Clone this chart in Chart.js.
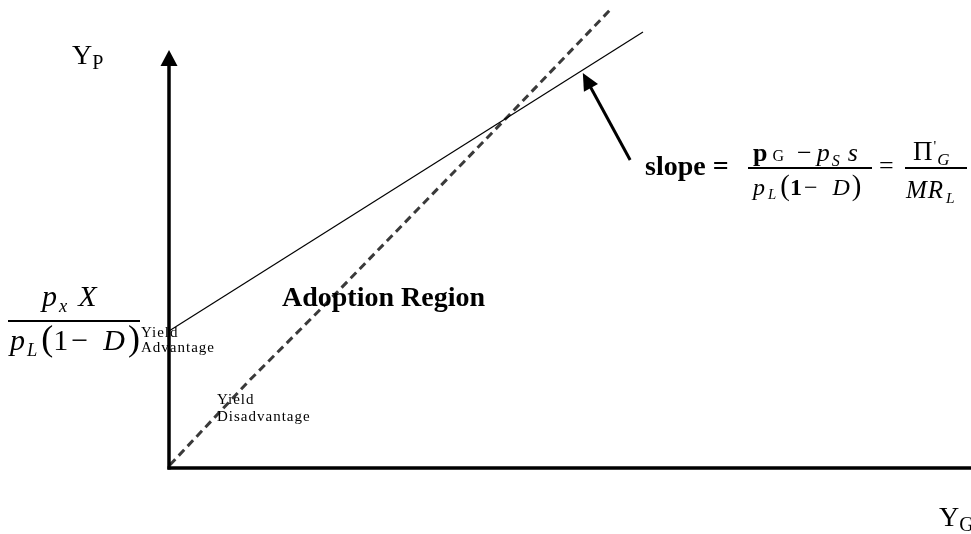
<!DOCTYPE html>
<html>
<head>
<meta charset="utf-8">
<script src="https://cdn.jsdelivr.net/npm/chart.js@4/dist/chart.umd.min.js"></script>
<style>
  body { margin: 0; background: #fff; }
  #wrap { position: relative; width: 971px; height: 534px; overflow: hidden; }
  canvas { position: absolute; left: 0; top: 0; }
  .lbl { position: absolute; font-family: "Liberation Serif", "Times New Roman", serif; line-height: 1; white-space: nowrap; color: #000; }
  .lbl span, .lbl i, .lbl b { display: inline-block; line-height: 0; }
  .it { font-style: italic; }
  .sub { font-size: 0.62em; position: relative; top: 0.3em; }
  .bar { position: absolute; background: #000; height: 2px; }
  .par { font-size: 1.2em; font-style: normal; }
  .small { font-size: 15px; letter-spacing: 1px; }
</style>
</head>
<body>
<div id="wrap">
  <canvas id="chart" width="971" height="534"></canvas>

  <div class="lbl" style="left:72px; top:41px; font-size:28px;">Y<span style="font-size:20px; position:relative; top:5px;">P</span></div>
  <div class="lbl" style="left:939px; top:503px; font-size:28px;">Y<span style="font-size:20px; position:relative; top:5px;">G</span></div>

  <!-- intercept -->
  <div class="lbl" style="left:42px; top:281px; font-size:30px;"><i>p</i><span class="sub it" style="margin-left:2px;">x</span><i style="margin-left:11px;">X</i></div>
  <div class="bar" style="left:8px; top:320px; width:132px;"></div>
  <div class="lbl" style="left:10px; top:325px; font-size:30px;"><i>p</i><span class="sub it" style="margin-left:2px;">L</span><span class="par" style="margin-left:4px;">(</span><span>1</span><span style="margin-left:3px;">&minus;</span><i style="margin-left:15px;">D</i><span class="par" style="margin-left:3px;">)</span></div>

  <div class="lbl small" style="left:141px; top:325px; line-height:15px;">Yield<br>Advantage</div>
  <div class="lbl small" style="left:217px; top:391px; line-height:17px;">Yield<br>Disadvantage</div>

  <div class="lbl" style="left:282px; top:283px; font-size:28px; font-weight:bold;">Adoption Region</div>

  <!-- slope formula -->
  <div class="lbl" style="left:645px; top:152px; font-size:28px; font-weight:bold;">slope =</div>
  <div class="lbl" style="left:753px; top:140px; font-size:26px;"><b>p</b><span style="font-size:16px; margin-left:5px;">G</span><span style="margin-left:13px;">&minus;</span><i style="margin-left:5px;">p</i><span class="sub it" style="margin-left:2px;">S</span><i style="margin-left:8px;">s</i></div>
  <div class="bar" style="left:748px; top:167px; width:124px;"></div>
  <div class="lbl" style="left:753px; top:175px; font-size:24px;"><i>p</i><span class="sub it" style="margin-left:3px;">L</span><span class="par" style="margin-left:4px;">(</span><b>1</b><span style="margin-left:2px;">&minus;</span><i style="margin-left:15px;">D</i><span class="par" style="margin-left:2px;">)</span></div>
  <div class="lbl" style="left:879px; top:153px; font-size:26px;">=</div>
  <div class="lbl" style="left:913px; top:138px; font-size:27px;">&Pi;<span style="font-size:15px; position:relative; top:-9px; margin-left:1px;">'</span><span class="sub it" style="font-size:17px; margin-left:1px;">G</span></div>
  <div class="bar" style="left:905px; top:167px; width:62px;"></div>
  <div class="lbl it" style="left:906px; top:177px; font-size:25px; letter-spacing:1px;">MR<span class="sub" style="margin-left:2px;">L</span></div>
</div>

<script>
// axis runs 0..100 in both directions
const axisMax = 100;

// solid line: farmer's indifference line
const solidX = [0, 59.1];
const solidY = [32.8, 104.3];

// dashed line: observed yields
const dashX = [0.1, 10.1, 18.8, 41.0, 55.0];
const dashY = [0.7, 21.1, 37.8, 81.6, 109.6];

// pointer to the solid line (tail, head)
const slopeArrowX = [57.5, 51.6];
const slopeArrowY = [73.7, 94.5];

function toPoints(xs, ys) {
  return xs.map((v, i) => ({ x: v, y: ys[i] }));
}

function arrowHead(ctx, fx, fy, tx, ty, len, half) {
  const ang = Math.atan2(ty - fy, tx - fx);
  ctx.beginPath();
  ctx.moveTo(tx, ty);
  ctx.lineTo(tx - len * Math.cos(ang) + half * Math.sin(ang), ty - len * Math.sin(ang) - half * Math.cos(ang));
  ctx.lineTo(tx - len * Math.cos(ang) - half * Math.sin(ang), ty - len * Math.sin(ang) + half * Math.cos(ang));
  ctx.closePath();
  ctx.fill();
}

const axesPlugin = {
  id: 'axes',
  afterDatasetsDraw(chart) {
    const { ctx, chartArea, scales: { x, y } } = chart;
    const x0 = x.getPixelForValue(0);
    const y0 = y.getPixelForValue(0);
    const yTop = y.getPixelForValue(axisMax);
    ctx.save();
    ctx.strokeStyle = '#000';
    ctx.fillStyle = '#000';
    ctx.lineWidth = 3.5;
    ctx.beginPath();
    ctx.moveTo(x0, y0 + 1.5);
    ctx.lineTo(x0, yTop + 12);
    ctx.stroke();
    ctx.beginPath();
    ctx.moveTo(x0 - 1.5, y0);
    ctx.lineTo(chartArea.right, y0);
    ctx.stroke();
    arrowHead(ctx, x0, y0, x0, yTop, 16, 8.5);

    // slope pointer
    const ax = slopeArrowX.map(v => x.getPixelForValue(v));
    const ay = slopeArrowY.map(v => y.getPixelForValue(v));
    const ang = Math.atan2(ay[1] - ay[0], ax[1] - ax[0]);
    ctx.lineWidth = 3;
    ctx.beginPath();
    ctx.moveTo(ax[0], ay[0]);
    ctx.lineTo(ax[1] - 10 * Math.cos(ang), ay[1] - 10 * Math.sin(ang));
    ctx.stroke();
    arrowHead(ctx, ax[0], ay[0], ax[1], ay[1], 17, 8);
    ctx.restore();
  }
};

new Chart(document.getElementById('chart'), {
  type: 'scatter',
  data: {
    datasets: [
      {
        data: toPoints(solidX, solidY),
        showLine: true,
        borderColor: '#000',
        borderWidth: 1.2,
        pointRadius: 0,
        clip: false
      },
      {
        data: toPoints(dashX, dashY),
        showLine: true,
        borderColor: '#3a3a3a',
        borderWidth: 3,
        borderDash: [8, 5],
        pointRadius: 0,
        clip: false
      }
    ]
  },
  options: {
    responsive: false,
    animation: false,
    devicePixelRatio: 1,
    events: [],
    layout: { padding: { left: 169, top: 50, right: 0, bottom: 66 } },
    scales: {
      x: { display: false, min: 0, max: axisMax },
      y: { display: false, min: 0, max: axisMax }
    },
    plugins: {
      legend: { display: false },
      tooltip: { enabled: false }
    }
  },
  plugins: [axesPlugin]
});
</script>
</body>
</html>
